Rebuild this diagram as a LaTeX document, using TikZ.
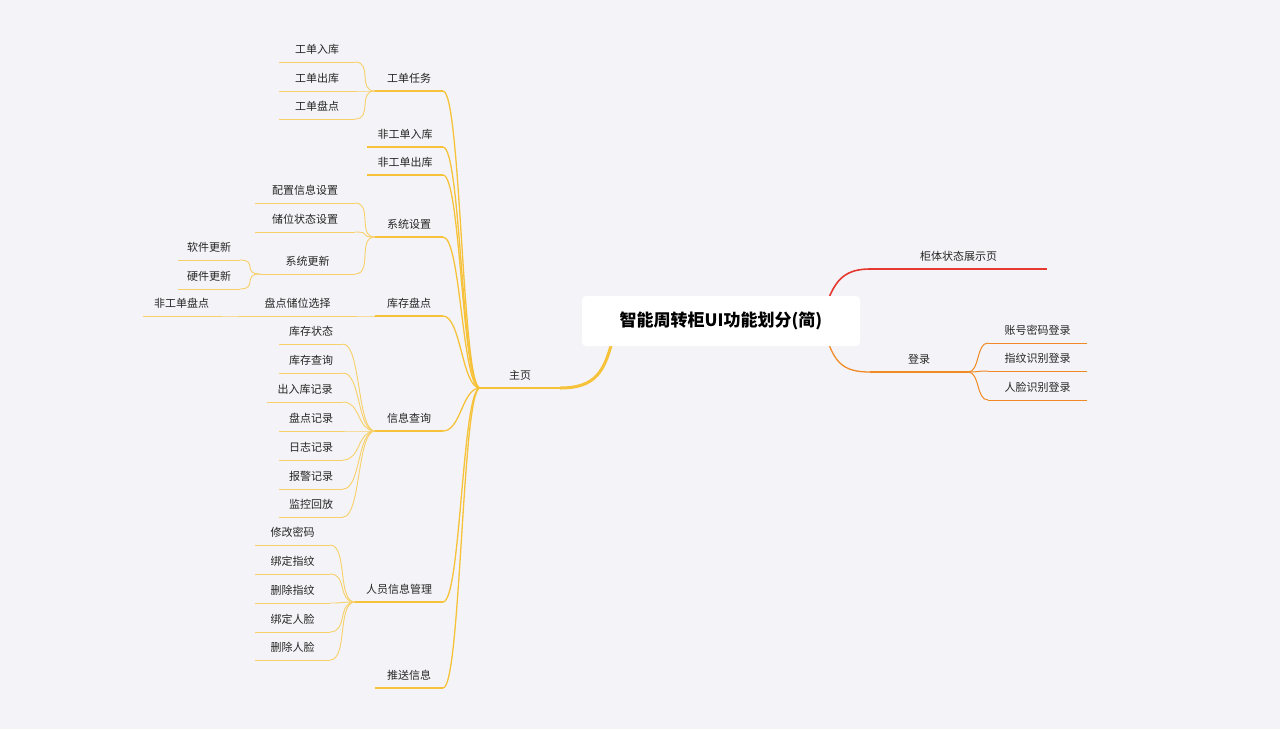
\documentclass[tikz,border=0pt]{standalone}
\usepackage{fontspec}
\setmainfont{Noto Sans CJK SC}
\definecolor{bg}{HTML}{F4F4F8}
\definecolor{yel}{HTML}{F5C23A}
\definecolor{yell}{HTML}{F7D06A}
\definecolor{redc}{HTML}{E5382F}
\definecolor{orc}{HTML}{EF8A25}
\tikzset{
  lbl/.style={font=\fontsize{11}{12}\selectfont, text=black!85, inner sep=0pt},
  br/.style={yel, line width=1.3pt},
  lf/.style={yell, line width=0.9pt},
  rb/.style={redc, line width=1.6pt},
  ob/.style={orc, line width=1.3pt},
  ol/.style={orc, line width=1pt},
}
\newcommand\mmitem[6]{%
  \coordinate (#1L) at (#3,#5); \coordinate (#1R) at (#4,#5);
  \node[lbl] (#1) at ({(#3+#4)/2},#5-13) {#2};
  \draw[#6] (#1L) -- (#1R);}
\newcommand\lcon[3]{\draw[#3] (#1L) .. controls +(-18,0) and +(18,0) .. (#2R);}
\newcommand\rcon[3]{\draw[#3] (#1R) .. controls +(12,0) and +(-12,0) .. (#2L);}
\begin{document}
\begin{tikzpicture}[x=1pt,y=-1pt]
\fill[bg] (0,0) rectangle (1280,729);
\useasboundingbox (0,0) rectangle (1280,729);
% right side
\mmitem{gt}{柜体状态展示页}{870}{1047}{269}{rb}
\mmitem{dl}{登录}{870}{968}{372}{ob}
\coordinate (rootTR) at (828,300);
\coordinate (rootBR) at (828,342);
\coordinate (rootBL) at (612,342);
\draw[rb] (rootTR) .. controls +(8,-20) and +(-25,0) .. (gtL);
\draw[ob] (rootBR) .. controls +(8,22) and +(-25,0) .. (dlL);
\mmitem{zh}{账号密码登录}{988}{1087}{343}{ol}
\mmitem{zw}{指纹识别登录}{988}{1087}{371}{ol}
\mmitem{rl}{人脸识别登录}{988}{1087}{400}{ol}
\rcon{dl}{zh}{ol}\rcon{dl}{zw}{ol}\rcon{dl}{rl}{ol}
% main
\mmitem{zy}{主页}{480}{560}{388}{br}
\draw[yel, line width=3pt] (rootBL) .. controls +(-8,30) and +(35,0) .. (zyR);
\node[fill=white, rounded corners=4pt, minimum width=278pt, minimum height=50pt,
  font=\bfseries\fontsize{17}{20}\selectfont, text=black] (root) at (721,321) {智能周转柜UI功能划分(简)};
% level 1
\mmitem{gdrw}{工单任务}{375}{443}{91}{br}
\mmitem{fgr}{非工单入库}{367}{443}{147}{br}
\mmitem{fgc}{非工单出库}{367}{443}{175}{br}
\mmitem{xtsz}{系统设置}{375}{443}{237}{br}
\mmitem{kcpd}{库存盘点}{375}{443}{316}{br}
\mmitem{xxcx}{信息查询}{375}{443}{431}{br}
\mmitem{ryxx}{人员信息管理}{355}{443}{602}{br}
\mmitem{tsxx}{推送信息}{375}{443}{688}{br}
\foreach \c in {gdrw,fgr,fgc,xtsz,kcpd,xxcx,ryxx,tsxx}{\lcon{zy}{\c}{br}}
% 工单任务
\mmitem{a1}{工单入库}{279}{355}{62}{lf}
\mmitem{a2}{工单出库}{279}{355}{91}{lf}
\mmitem{a3}{工单盘点}{279}{355}{119}{lf}
\foreach \c in {a1,a2,a3}{\lcon{gdrw}{\c}{lf}}
% 系统设置
\mmitem{b1}{配置信息设置}{255}{355}{203}{lf}
\mmitem{b2}{储位状态设置}{255}{355}{232}{lf}
\mmitem{b3}{系统更新}{260}{355}{274}{lf}
\foreach \c in {b1,b2,b3}{\lcon{xtsz}{\c}{lf}}
\mmitem{b31}{软件更新}{178}{240}{260}{lf}
\mmitem{b32}{硬件更新}{178}{240}{289}{lf}
\foreach \c in {b31,b32}{\lcon{b3}{\c}{lf}}
% 库存盘点
\mmitem{c1}{盘点储位选择}{240}{355}{316}{lf}
\lcon{kcpd}{c1}{lf}
\mmitem{c11}{非工单盘点}{143}{220}{316}{lf}
\lcon{c1}{c11}{lf}
% 信息查询
\mmitem{d1}{库存状态}{279}{343}{344}{lf}
\mmitem{d2}{库存查询}{279}{343}{373}{lf}
\mmitem{d3}{出入库记录}{267}{343}{402}{lf}
\mmitem{d4}{盘点记录}{279}{343}{431}{lf}
\mmitem{d5}{日志记录}{279}{343}{460}{lf}
\mmitem{d6}{报警记录}{279}{343}{489}{lf}
\mmitem{d7}{监控回放}{279}{343}{517}{lf}
\foreach \c in {d1,d2,d3,d4,d5,d6,d7}{\lcon{xxcx}{\c}{lf}}
% 人员信息管理
\mmitem{e1}{修改密码}{255}{330}{545}{lf}
\mmitem{e2}{绑定指纹}{255}{330}{574}{lf}
\mmitem{e3}{删除指纹}{255}{330}{603}{lf}
\mmitem{e4}{绑定人脸}{255}{330}{632}{lf}
\mmitem{e5}{删除人脸}{255}{330}{660}{lf}
\foreach \c in {e1,e2,e3,e4,e5}{\lcon{ryxx}{\c}{lf}}
\end{tikzpicture}
\end{document}
